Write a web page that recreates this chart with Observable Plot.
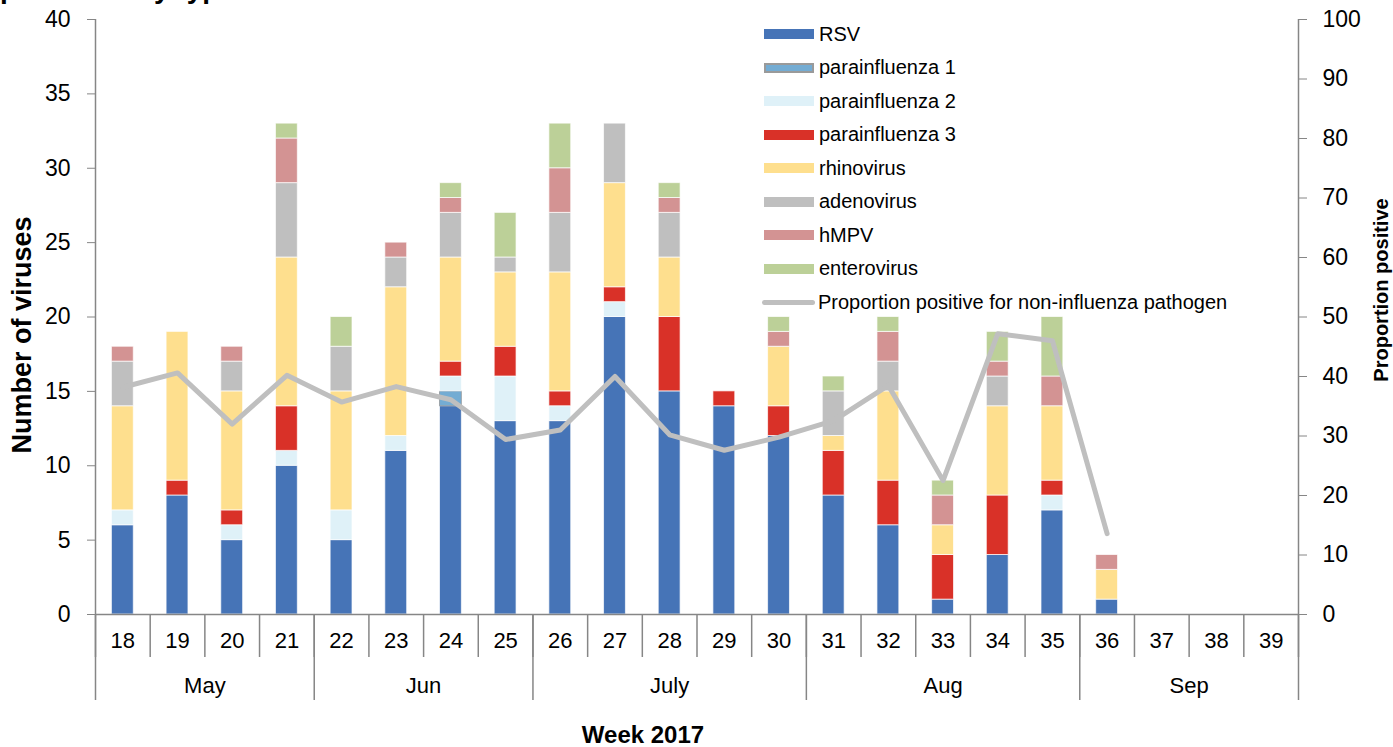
<!DOCTYPE html>
<html>
<head>
<meta charset="utf-8">
<script src="https://cdn.jsdelivr.net/npm/d3@7"></script>
<script src="https://cdn.jsdelivr.net/npm/@observablehq/plot@0.6"></script>
<style>
  body { margin: 0; background: #fff; font-family: "Liberation Sans", Arial, sans-serif; }
  #wrap { position: relative; width: 1393px; height: 747px; overflow: hidden; background: #fff; }
  #chart { position: absolute; left: 0; top: 0; }
  #title { position: absolute; right: 1158px; top: -25px; font-size: 28px; line-height: 28px; font-weight: bold; white-space: nowrap; color: #000; }
  .row { position: absolute; height: 24px; display: flex; align-items: center; font-size: 20px; color: #000; white-space: nowrap; }
  .sw { width: 50px; height: 10px; margin-right: 5px; box-sizing: border-box; }
  .lsw { width: 53px; height: 5px; margin-right: 3px; border-radius: 3px; background: #bfbfbf; }
</style>
</head>
<body>
<div id="wrap">
  <div id="chart"></div>
  <div id="title">Non-influenza respiratory pathogens in sentinel specimens by type</div>
  <div id="legend"></div>
</div>
<script>
// ---- data ----
const weeks = [18,19,20,21,22,23,24,25,26,27,28,29,30,31,32,33,34,35,36,37,38,39];
const types = ["RSV","parainfluenza 1","parainfluenza 2","parainfluenza 3","rhinovirus","adenovirus","hMPV","enterovirus"];
const typeColors = ["#4674b7","#74acd3","#dff1f8","#d93128","#fedf8e","#bfbfbf","#d39393","#bcd098"];
const RSV    = [6,8,5,10,5,11,14,13,13,20,15,14,12,8,6,1,4,7,1,0,0,0];
const para1  = [0,0,0,0,0,0,1,0,0,0,0,0,0,0,0,0,0,0,0,0,0,0];
const para2  = [1,0,1,1,2,1,1,3,1,1,0,0,0,0,0,0,0,1,0,0,0,0];
const para3  = [0,1,1,3,0,0,1,2,1,1,5,1,2,3,3,3,4,1,0,0,0,0];
const rhino  = [7,10,8,10,8,10,7,5,8,7,4,0,4,1,6,2,6,5,2,0,0,0];
const adeno  = [3,0,2,5,3,2,3,1,4,4,3,0,0,3,2,0,2,0,0,0,0,0];
const hMPV   = [1,0,1,3,0,1,1,0,3,0,1,0,1,0,2,2,1,2,1,0,0,0];
const entero = [0,0,0,1,2,0,1,3,3,0,1,0,1,1,1,1,2,4,0,0,0,0];
const seriesValues = [RSV, para1, para2, para3, rhino, adeno, hMPV, entero];

const propWeeks = [18,19,20,21,22,23,24,25,26,27,28,29,30,31,32,33,34,35,36];
const propPositive = [38.2,40.6,32.0,40.2,35.7,38.3,36.1,29.4,31.0,40.0,30.2,27.6,29.8,32.6,38.5,22.5,47.2,46.0,13.6];
const lineLabel = "Proportion positive for non-influenza pathogen";

const countTicks = [0,5,10,15,20,25,30,35,40];
const propTicks = [0,10,20,30,40,50,60,70,80,90,100];
const months = ["May","Jun","July","Aug","Sep"];
const monthFirstWeek = [18,22,26,31,36];
const monthLastWeek  = [21,25,30,35,39];

// ---- derived tables ----
const countMax = countTicks[countTicks.length - 1];
const propMax = propTicks[propTicks.length - 1];
const propPerCount = propMax / countMax;
const colorOf = new Map(types.map((t, i) => [t, typeColors[i]]));

const bars = [];
types.forEach((t, ti) => {
  weeks.forEach((w, wi) => {
    const v = seriesValues[ti][wi];
    if (v > 0) bars.push({week: w, type: t, count: v});
  });
});
const lineData = propWeeks.map((w, i) => ({week: w, prop: propPositive[i]}));
const weekEdges = [weeks[0] - 0.5, ...weeks.map(w => w + 0.5)];
const monthEdges = [monthFirstWeek[0] - 0.5, ...monthLastWeek.map(w => w + 0.5)];
const monthCenters = months.map((m, i) => (monthFirstWeek[i] + monthLastWeek[i]) / 2);
const monthByCenter = new Map(monthCenters.map((c, i) => [c, months[i]]));

const axisGray = "#868686";
const halfBar = 0.2;

const chart = Plot.plot({
  width: 1393,
  height: 747,
  marginLeft: 95,
  marginRight: 95,
  marginTop: 19,
  marginBottom: 133,
  x: {type: "linear", domain: [weeks[0] - 0.5, weeks[weeks.length - 1] + 0.5], label: null},
  y: {domain: [0, countMax], label: null},
  color: {type: "identity"},
  style: {fontFamily: "'Liberation Sans', Arial, sans-serif", color: "#000", background: "#fff", overflow: "visible"},
  marks: [
    Plot.rectY(bars, {
      x1: d => d.week - halfBar,
      x2: d => d.week + halfBar,
      y: "count",
      fill: d => colorOf.get(d.type),
      stroke: d => d.type === "parainfluenza 1" ? "#8f8f8f" : "#ffffff",
      strokeWidth: d => 1,
      strokeOpacity: 0.7
    }),
    Plot.line(lineData, {x: "week", y: d => d.prop / propPerCount, stroke: "#bfbfbf", strokeWidth: 5}),
    // axis lines
    Plot.ruleX([weekEdges[0], weekEdges[weekEdges.length - 1]], {stroke: axisGray, strokeWidth: 1.5}),
    Plot.ruleY([0], {stroke: axisGray, strokeWidth: 1.5}),
    // y axes
    Plot.axisY({anchor: "left", ticks: countTicks, tickSize: 8, tickPadding: 17, fontSize: 23, stroke: axisGray, label: null}),
    Plot.axisY({anchor: "right", ticks: propTicks.map(v => v / propPerCount), tickFormat: d => String(Math.round(d * propPerCount)), tickSize: 8, tickPadding: 16, fontSize: 23, stroke: axisGray, label: null}),
    // x axis: separators and labels
    Plot.axisX({ticks: weekEdges, tickSize: 43, tickFormat: () => "", stroke: axisGray, strokeWidth: 1.5, label: null}),
    Plot.axisX({ticks: monthEdges, tickSize: 86, tickFormat: () => "", stroke: axisGray, strokeWidth: 1.5, label: null}),
    Plot.axisX({ticks: weeks, tickSize: 0, tickPadding: 18, fontSize: 22, tickFormat: d => String(d), label: null}),
    Plot.axisX({ticks: monthCenters, tickSize: 0, tickPadding: 63, fontSize: 22, tickFormat: d => monthByCenter.get(d), label: null}),
    // axis titles
    Plot.text(["Number of viruses"], {text: d => d, frameAnchor: "left", textAnchor: "middle", lineAnchor: "middle", rotate: -90, dx: -73, dy: 18, fontSize: 27, fontWeight: "bold"}),
    Plot.text(["Proportion positive"], {text: d => d, frameAnchor: "right", textAnchor: "middle", lineAnchor: "middle", rotate: -90, dx: 83, dy: -27, fontSize: 20, fontWeight: "bold"}),
    Plot.text(["Week 2017"], {text: d => d, frameAnchor: "bottom", textAnchor: "middle", lineAnchor: "middle", dx: -54, dy: 121, fontSize: 24, fontWeight: "bold"})
  ]
});
document.getElementById("chart").appendChild(chart);

// ---- legend ----
const legend = document.getElementById("legend");
types.forEach((t, i) => {
  const row = document.createElement("div");
  row.className = "row";
  row.style.left = "764px";
  row.style.top = (34 - 12 + i * 33.5) + "px";
  const sw = document.createElement("div");
  sw.className = "sw";
  sw.style.background = typeColors[i];
  if (t === "parainfluenza 1") sw.style.border = "2px solid #9a9a9a";
  row.appendChild(sw);
  const tx = document.createElement("span");
  tx.textContent = t;
  row.appendChild(tx);
  legend.appendChild(row);
});
{
  const row = document.createElement("div");
  row.className = "row";
  row.style.left = "762px";
  row.style.top = (34 - 12 + types.length * 33.5) + "px";
  const sw = document.createElement("div");
  sw.className = "lsw";
  row.appendChild(sw);
  const tx = document.createElement("span");
  tx.textContent = lineLabel;
  row.appendChild(tx);
  legend.appendChild(row);
}
</script>
</body>
</html>
